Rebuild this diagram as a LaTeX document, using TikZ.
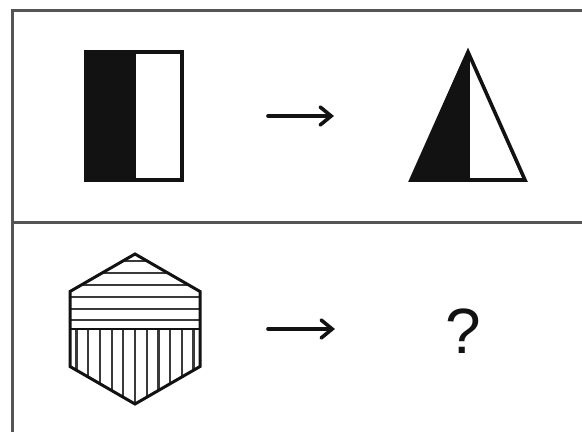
\documentclass[tikz,border=0pt]{standalone}
\usepackage{fontspec}
\usepackage{xcolor}
\usepackage{tikz}
\usetikzlibrary{arrows.meta}
\newfontfamily\puzzlefont{Liberation Sans}
\definecolor{FrameGray}{HTML}{555555}
\definecolor{InkBlack}{HTML}{121212}
\definecolor{HatchGray}{HTML}{3A3A3A}

\begin{document}
\begin{tikzpicture}[x=1pt, y=-1pt,
  frameline/.style={line width=3pt, color=FrameGray},
  figline/.style={line width=3.6pt, color=InkBlack, line join=miter},
  hatchline/.style={line width=2.2pt, color=HatchGray},
  maparrow/.style={line width=3.6pt, color=InkBlack, line cap=round, -{Straight Barb[length=11pt,width=18pt,line cap=round]}}]
  \useasboundingbox (0,0) rectangle (582,432);
  % frame and row separator
  \draw[frameline] (12,432) -- (12,10) -- (582,10);
  \draw[frameline] (12,222) -- (582,222);
  % top row: half-black rectangle
  \fill[InkBlack] (86,52) rectangle (136,180);
  \draw[figline] (86,52) rectangle (182,180);
  % top row: half-black triangle
  \fill[InkBlack] (468,52) -- (411,180) -- (468,180) -- cycle;
  \draw[figline] (468,52) -- (525,180) -- (411,180) -- cycle;
  \draw[figline] (468,52) -- (468,180);
  % bottom row: hatched hexagon
  \begin{scope}
    \clip (135,254) -- (200,291.5) -- (200,366.5) -- (135,404) -- (70,366.5) -- (70,291.5) -- cycle;
    \foreach \y in {261,273,285,297,309,320}
      \draw[hatchline] (60,\y) -- (210,\y);
    \foreach \k in {-5,...,5}
      \draw[hatchline] (135+\k*11.7,329) -- (135+\k*11.7,410);
  \end{scope}
  \draw[figline, line width=2.8pt] (70,329) -- (200,329);
  \draw[figline, line width=3pt] (135,254) -- (200,291.5) -- (200,366.5) -- (135,404) -- (70,366.5) -- (70,291.5) -- cycle;
  % arrows
  \coordinate (topFrom) at (268,116);
  \coordinate (topTo) at (334,116);
  \coordinate (botFrom) at (268,329);
  \coordinate (botTo) at (335,329);
  \draw[maparrow] (topFrom) -- (topTo);
  \draw[maparrow] (botFrom) -- (botTo);
  \node[font=\puzzlefont\fontsize{64}{64}\selectfont, text=InkBlack] (query) at (463,331) {?};
\end{tikzpicture}
\end{document}
